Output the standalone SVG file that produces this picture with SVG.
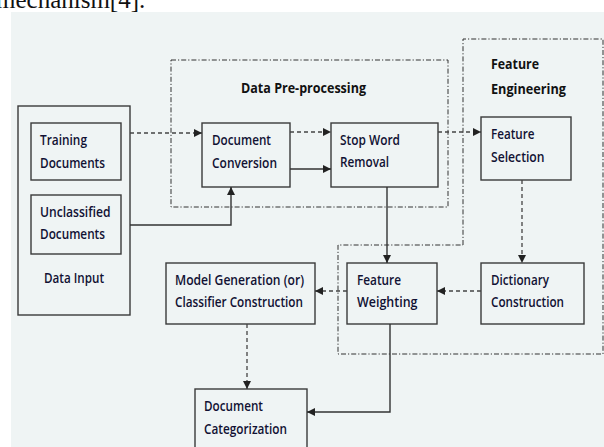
<svg xmlns="http://www.w3.org/2000/svg" width="604" height="447" viewBox="0 0 604 447">
<defs>
<style>
.node{fill:none;stroke:#3a3a3a;stroke-width:1.4}
.t{font-family:"Open Sans",Lato,"Liberation Sans",sans-serif;font-size:13.5px;font-weight:600;fill:#111133}
.h{font-family:"Open Sans",Lato,"Liberation Sans",sans-serif;font-size:13.5px;font-weight:bold;fill:#111}
.region{fill:none;stroke:#333;stroke-width:1;stroke-dasharray:5 2 1.2 2}
.solid{fill:none;stroke:#333;stroke-width:1.4}
.dash{fill:none;stroke:#444;stroke-width:1.3;stroke-dasharray:4 3}
</style>
<marker id="arr" viewBox="0 0 10 10" refX="10" refY="5" markerWidth="8" markerHeight="8" markerUnits="userSpaceOnUse" orient="auto">
<path d="M0,0 L10,5 L0,10 Z" fill="#222"/>
</marker>
</defs>
<rect x="0" y="0" width="604" height="447" fill="#ffffff"/>
<text x="-4" y="8" font-family="Liberation Serif,serif" font-size="25" fill="#111">mechanism[4].</text>
<rect x="11" y="12" width="593" height="435" fill="#eff4f4"/>

<g id="regions">
<rect class="region" x="171" y="60" width="277" height="147"/>
<path class="region" d="M463,245 V39 H603 V354 H338 V245 Z"/>
<text class="h" x="241" y="93" textLength="125" lengthAdjust="spacingAndGlyphs">Data Pre-processing</text>
<text class="h" x="491" y="69" textLength="48" lengthAdjust="spacingAndGlyphs">Feature</text>
<text class="h" x="491" y="94" textLength="75" lengthAdjust="spacingAndGlyphs">Engineering</text>
</g>

<g id="data-input">
<rect class="node" x="18" y="106" width="112" height="209"/>
<text class="t" x="44" y="283" textLength="60" lengthAdjust="spacingAndGlyphs">Data Input</text>
</g>
<g id="training-documents">
<rect class="node" x="31" y="123" width="90" height="57"/>
<text class="t" x="40" y="145" textLength="47" lengthAdjust="spacingAndGlyphs">Training</text>
<text class="t" x="40" y="167.5" textLength="65" lengthAdjust="spacingAndGlyphs">Documents</text>
</g>
<g id="unclassified-documents">
<rect class="node" x="31" y="195" width="90" height="59"/>
<text class="t" x="40" y="216.5" textLength="70.5" lengthAdjust="spacingAndGlyphs">Unclassified</text>
<text class="t" x="40" y="239" textLength="65" lengthAdjust="spacingAndGlyphs">Documents</text>
</g>
<g id="document-conversion">
<rect class="node" x="202" y="123" width="88" height="64"/>
<text class="t" x="212" y="145" textLength="59" lengthAdjust="spacingAndGlyphs">Document</text>
<text class="t" x="212" y="167.5" textLength="65" lengthAdjust="spacingAndGlyphs">Conversion</text>
</g>
<g id="stop-word-removal">
<rect class="node" x="331" y="123" width="107" height="64"/>
<text class="t" x="340" y="145" textLength="60" lengthAdjust="spacingAndGlyphs">Stop Word</text>
<text class="t" x="340" y="167" textLength="49" lengthAdjust="spacingAndGlyphs">Removal</text>
</g>
<g id="feature-selection">
<rect class="node" x="481" y="117" width="90" height="63"/>
<text class="t" x="491" y="139" textLength="43.5" lengthAdjust="spacingAndGlyphs">Feature</text>
<text class="t" x="491" y="161.5" textLength="53.5" lengthAdjust="spacingAndGlyphs">Selection</text>
</g>
<g id="dictionary-construction">
<rect class="node" x="481" y="263" width="103" height="61"/>
<text class="t" x="491" y="284.5" textLength="58" lengthAdjust="spacingAndGlyphs">Dictionary</text>
<text class="t" x="491" y="307" textLength="73" lengthAdjust="spacingAndGlyphs">Construction</text>
</g>
<g id="feature-weighting">
<rect class="node" x="347" y="263" width="90" height="61"/>
<text class="t" x="357" y="284.5" textLength="44" lengthAdjust="spacingAndGlyphs">Feature</text>
<text class="t" x="357" y="307" textLength="60.5" lengthAdjust="spacingAndGlyphs">Weighting</text>
</g>
<g id="model-generation">
<rect class="node" x="166" y="263" width="149" height="61"/>
<text class="t" x="175" y="284.5" textLength="129" lengthAdjust="spacingAndGlyphs">Model Generation (or)</text>
<text class="t" x="175" y="307" textLength="128" lengthAdjust="spacingAndGlyphs">Classifier Construction</text>
</g>
<g id="document-categorization">
<rect class="node" x="195" y="389" width="112" height="70"/>
<text class="t" x="204" y="410.5" textLength="59" lengthAdjust="spacingAndGlyphs">Document</text>
<text class="t" x="204" y="433.5" textLength="83" lengthAdjust="spacingAndGlyphs">Categorization</text>
</g>

<g id="connectors">
<path class="dash" d="M130,133 H202" marker-end="url(#arr)"/>
<path class="dash" d="M290,132 H331" marker-end="url(#arr)"/>
<path class="solid" d="M290,169 H331" marker-end="url(#arr)"/>
<path class="solid" d="M130,225 H231 V187" marker-end="url(#arr)"/>
<path class="dash" d="M438,132 H481" marker-end="url(#arr)"/>
<path class="dash" d="M522,180 V263" marker-end="url(#arr)"/>
<path class="solid" d="M387,187 V263" marker-end="url(#arr)"/>
<path class="dash" d="M481,291 H437" marker-end="url(#arr)"/>
<path class="dash" d="M347,291 H315" marker-end="url(#arr)"/>
<path class="dash" d="M247,324 V389" marker-end="url(#arr)"/>
<path class="solid" d="M390,324 V412 H307" marker-end="url(#arr)"/>
</g>
</svg>
